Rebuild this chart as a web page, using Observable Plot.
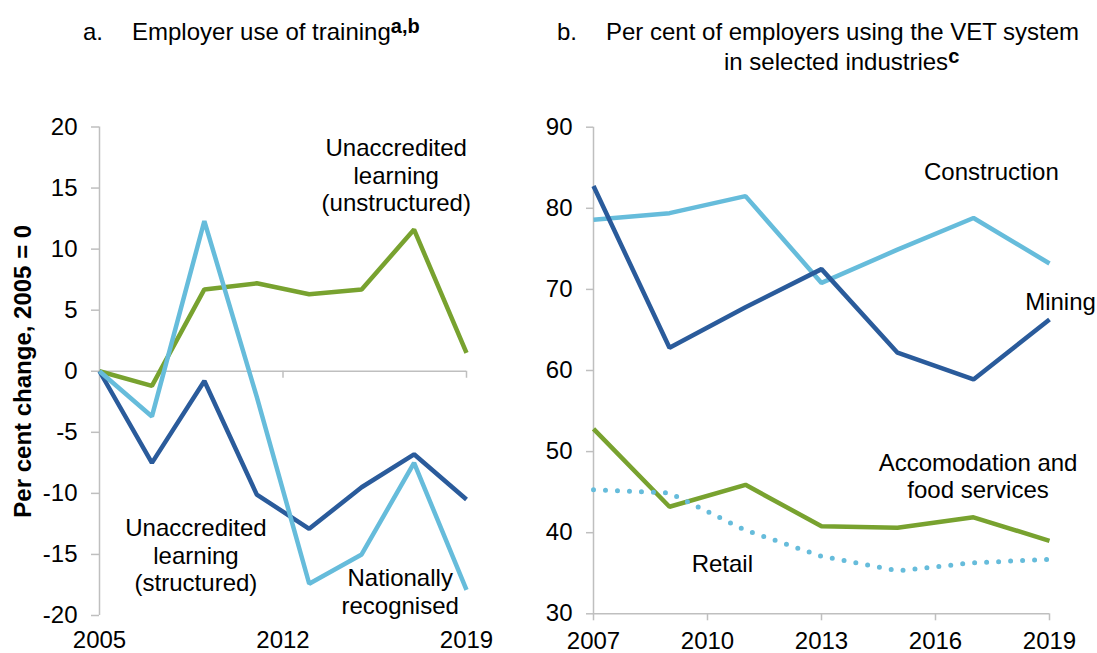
<!DOCTYPE html>
<html><head><meta charset="utf-8">
<script src="https://cdn.jsdelivr.net/npm/d3@7"></script>
<script src="https://cdn.jsdelivr.net/npm/@observablehq/plot@0.6"></script>
<style>
body{margin:0;background:#fff;}
#root{position:relative;width:1097px;height:653px;font-family:"Liberation Sans",Arial,sans-serif;color:#000;overflow:hidden;background:#fff;}
.t{position:absolute;font-size:24px;line-height:24px;white-space:nowrap;}
.t sup{font-size:20px;font-weight:bold;vertical-align:7px;line-height:0;}
.p{position:absolute;top:90px;}
.p svg{overflow:visible;}
</style></head><body>
<div id="root">
<div class="t" style="left:83px;top:20px">a.</div>
<div class="t" style="left:132px;top:20px">Employer use of training<sup>a,b</sup></div>
<div class="t" style="left:557px;top:20px">b.</div>
<div class="t" style="left:606px;top:20px">Per cent of employers using the VET system</div>
<div class="t" style="left:724px;top:50px">in selected industries<sup>c</sup></div>
<div id="pa" class="p" style="left:0px"></div>
<div id="pb" class="p" style="left:530px"></div>
</div>
<script>
// ---- Panel a data ----
const yearsA = [2005, 2007, 2009, 2011, 2013, 2015, 2017, 2019];
const nationallyRecognised = [0, -3.7, 12.3, -2.1, -17.4, -15.0, -7.5, -17.9];
const unaccreditedStructured = [0, -7.5, -0.8, -10.1, -12.9, -9.5, -6.8, -10.5];
const unaccreditedUnstructured = [0, -1.2, 6.7, 7.2, 6.3, 6.7, 11.6, 1.5];
const xTicksA = [2005, 2012, 2019];
const yTicksA = [-20, -15, -10, -5, 0, 5, 10, 15, 20];

// ---- Panel b data ----
const yearsB = [2007, 2009, 2011, 2013, 2015, 2017, 2019];
const construction = [78.6, 79.4, 81.5, 70.8, 74.9, 78.8, 73.2];
const mining = [82.75, 62.8, 67.8, 72.5, 62.2, 58.9, 66.3];
const accommodation = [52.8, 43.2, 45.9, 40.8, 40.6, 41.9, 39.0];
const retail = [45.3, 44.9, 40.3, 37.1, 35.3, 36.3, 36.7];
const xTicksB = [2007, 2010, 2013, 2016, 2019];
const yTicksB = [30, 40, 50, 60, 70, 80, 90];

const LIGHT = "#66bcdb", DARK = "#2a5b9b", GREEN = "#78a22f", GREY = "#bfbfbf";
const rows = (years, vals) => years.map((year, i) => ({year, value: vals[i]}));
const fmt = d => String(d);
const style = {fontFamily: "'Liberation Sans', Arial, sans-serif", fontSize: "24px", background: "transparent", color: "#000", overflow: "visible"};
const lineOpts = (stroke) => ({x: "year", y: "value", stroke, strokeWidth: 4.5, strokeLinejoin: "miter", strokeLinecap: "butt"});

const plotA = Plot.plot({
  width: 530, height: 563,
  marginLeft: 99, marginRight: 64, marginTop: 36.5, marginBottom: 38,
  style,
  x: {domain: [2005, 2019]},
  y: {domain: [-20, 20]},
  marks: [
    Plot.ruleY([0], {stroke: GREY, strokeWidth: 1.5}),
    Plot.ruleX(xTicksA.slice(1), {x: d => d, y1: 0, y2: 0, insetBottom: -7, stroke: GREY, strokeWidth: 1.5}),
    Plot.ruleX([2005], {stroke: GREY, strokeWidth: 1.5}),
    Plot.axisY({ticks: yTicksA, tickSize: 8, tickPadding: 14, tickFormat: fmt, stroke: GREY, strokeWidth: 1.5, fill: "#000", label: null, fontSize: 24}),
    Plot.axisX({ticks: xTicksA, tickSize: 0, tickPadding: 15.5, tickFormat: fmt, fill: "#000", label: null, fontSize: 24}),
    Plot.line(rows(yearsA, unaccreditedStructured), lineOpts(DARK)),
    Plot.line(rows(yearsA, unaccreditedUnstructured), lineOpts(GREEN)),
    Plot.line(rows(yearsA, nationallyRecognised), lineOpts(LIGHT)),
    Plot.text(["Per cent change, 2005 = 0"], {text: d => d, frameAnchor: "left", textAnchor: "middle", rotate: -90, dx: -76, fontWeight: "bold", fontSize: 24, fill: "#000"}),
    Plot.text([
      {label: "Unaccredited\nlearning\n(unstructured)", x: 2016.32, y: 16.08},
      {label: "Unaccredited\nlearning\n(structured)", x: 2008.68, y: -15.02},
      {label: "Nationally\nrecognised", x: 2016.47, y: -18.0}
    ], {x: "x", y: "y", text: "label", fontSize: 24, lineHeight: 1.15, fill: "#000"})
  ]
});
document.getElementById("pa").appendChild(plotA);

const plotB = Plot.plot({
  width: 567, height: 563,
  marginLeft: 63, marginRight: 48, marginTop: 36.7, marginBottom: 39.7,
  style,
  x: {domain: [2007, 2019]},
  y: {domain: [30, 90]},
  marks: [
    Plot.ruleX([2007], {stroke: GREY, strokeWidth: 1.5}),
    Plot.ruleY([30], {stroke: GREY, strokeWidth: 1.5}),
    Plot.axisY({ticks: yTicksB, tickSize: 7, tickPadding: 14, tickFormat: fmt, stroke: GREY, strokeWidth: 1.5, fill: "#000", label: null, fontSize: 24}),
    Plot.axisX({ticks: xTicksB, tickSize: 7, tickPadding: 11.5, tickFormat: fmt, stroke: GREY, strokeWidth: 1.5, fill: "#000", label: null, fontSize: 24}),
    Plot.line(rows(yearsB, construction), lineOpts(LIGHT)),
    Plot.line(rows(yearsB, mining), lineOpts(DARK)),
    Plot.line(rows(yearsB, accommodation), lineOpts(GREEN)),
    Plot.line(rows(yearsB, retail), {x: "year", y: "value", stroke: LIGHT, strokeWidth: 5, strokeDasharray: "0 12", strokeLinecap: "round"}),
    Plot.text([
      {label: "Construction", x: 2017.47, y: 84.56},
      {label: "Mining", x: 2019.29, y: 68.58},
      {label: "Accomodation and\nfood services", x: 2017.12, y: 46.99},
      {label: "Retail", x: 2010.39, y: 36.23}
    ], {x: "x", y: "y", text: "label", fontSize: 24, lineHeight: 1.13, fill: "#000"})
  ]
});
document.getElementById("pb").appendChild(plotB);
</script>
</body></html>
